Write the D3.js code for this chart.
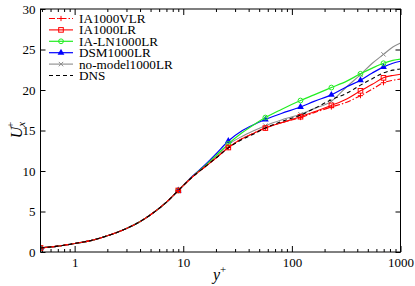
<!DOCTYPE html>
<html>
<head>
<meta charset="utf-8">
<script src="https://cdn.jsdelivr.net/npm/d3@7"></script>
<style>
  html, body { margin: 0; padding: 0; background: #fff; }
  svg { display: block; font-family: "Liberation Serif", "DejaVu Serif", serif; }
</style>
</head>
<body>
<svg id="chart" width="415" height="286"></svg>
<script>
// ---- data ----
const yPlus = [0.485, 0.7, 1, 1.5, 2, 3, 4, 5, 7, 9, 12, 16, 20, 26, 35, 45, 57, 80, 120, 160, 231, 320, 428, 550, 697, 850, 1000];
const wall  = [0.5, 0.72, 1.05, 1.5, 2.0, 2.9, 3.75, 4.6, 6.15, 7.6];
const ia1000vlr     = wall.concat([9.2, 10.55, 11.6, 12.9, 14.0, 14.7, 15.3, 15.95, 16.6, 17.2, 17.9, 18.5, 19.3, 20.1, 20.9, 21.2, 21.35]);
const ia1000lr      = wall.concat([9.2, 10.55, 11.6, 12.9, 14.0, 14.7, 15.3, 15.95, 16.7, 17.3, 18.1, 18.9, 19.9, 20.7, 21.5, 21.8, 21.95]);
const ialn1000lr    = wall.concat([9.25, 10.7, 11.9, 13.35, 14.75, 15.75, 16.6, 17.6, 18.7, 19.4, 20.3, 21.1, 22.0, 22.7, 23.3, 23.65, 23.8]);
const dsm1000lr     = wall.concat([9.3, 10.8, 12.1, 13.7, 15.0, 15.75, 16.35, 17.1, 17.9, 18.6, 19.4, 20.4, 21.2, 22.1, 22.85, 23.3, 23.55]);
const nomodel1000lr = wall.concat([9.25, 10.7, 11.8, 13.25, 14.3, 15.0, 15.6, 16.3, 17.0, 17.7, 18.6, 20.4, 21.9, 23.3, 24.4, 25.3, 25.8]);
const dns           = wall.concat([9.2, 10.55, 11.6, 12.85, 13.9, 14.6, 15.3, 16.1, 16.9, 17.7, 18.8, 19.6, 20.6, 21.4, 22.1, 22.45, 22.6]);
const markerIdx = [0, 9, 13, 16, 18, 20, 22, 24];

const seriesNames = ["IA1000VLR", "IA1000LR", "IA-LN1000LR", "DSM1000LR", "no-model1000LR", "DNS"];
const yTicks = [0, 5, 10, 15, 20, 25, 30];
const xMajor = [1, 10, 100, 1000];
const xTickLabels = ["1", "10", "100", "1000"];

// ---- styles ----
const styles = [
  { vals: ia1000vlr, color: "#ff0000", dash: "6,2,1.5,2", marker: "plus", width: 1.1 },
  { vals: ia1000lr, color: "#ff0000", dash: null, marker: "square", width: 1.1 },
  { vals: ialn1000lr, color: "#22ee22", dash: null, marker: "circle", width: 1.2 },
  { vals: dsm1000lr, color: "#0000ff", dash: null, marker: "triangle", width: 1.2 },
  { vals: nomodel1000lr, color: "#8c8c8c", dash: null, marker: "cross", width: 1.1 },
  { vals: dns, color: "#000000", dash: "4,3", marker: null, width: 1.1 }
];

const svg = d3.select("#chart");
const L = 40.5, R = 400.5, T = 9, B = 252;
const x = d3.scaleLog().domain([0.485, 1000]).range([L, R]);
const y = d3.scaleLinear().domain([0, 30]).range([B, T]);

// minor x ticks
const xMinor = [];
[0.1, 1, 10, 100].forEach(d => { for (let k = 2; k <= 9; k++) { const v = d * k; if (v >= 0.485 && v <= 1000) xMinor.push(v); } });

function styleAxis(g) {
  g.select(".domain").remove();
  g.selectAll(".tick line").attr("stroke", "#000").attr("stroke-width", 1);
  g.selectAll(".tick text").attr("font-size", 13).attr("fill", "#000")
    .attr("font-family", "Liberation Serif, serif");
}

// bottom axis
svg.append("g").attr("transform", `translate(0,${B})`)
  .call(d3.axisBottom(x).tickValues(xMajor).tickFormat((d, i) => xTickLabels[i]).tickSize(-6).tickPadding(6))
  .call(styleAxis);
svg.append("g").attr("transform", `translate(0,${B})`)
  .call(d3.axisBottom(x).tickValues(xMinor).tickFormat("").tickSize(-3))
  .call(styleAxis);
// top axis
svg.append("g").attr("transform", `translate(0,${T})`)
  .call(d3.axisTop(x).tickValues(xMajor).tickFormat("").tickSize(-6))
  .call(styleAxis);
svg.append("g").attr("transform", `translate(0,${T})`)
  .call(d3.axisTop(x).tickValues(xMinor).tickFormat("").tickSize(-3))
  .call(styleAxis);
// left axis
svg.append("g").attr("transform", `translate(${L},0)`)
  .call(d3.axisLeft(y).tickValues(yTicks).tickSize(-5).tickPadding(5))
  .call(styleAxis);
// right axis
svg.append("g").attr("transform", `translate(${R},0)`)
  .call(d3.axisRight(y).tickValues(yTicks).tickFormat("").tickSize(-5))
  .call(styleAxis);

// clip
svg.append("clipPath").attr("id", "clip").append("rect")
  .attr("x", L).attr("y", T).attr("width", R - L).attr("height", B - T);

const line = d3.line().x((d, i) => x(yPlus[i])).y(d => y(d)).curve(d3.curveMonotoneX);
const plot = svg.append("g").attr("clip-path", "url(#clip)");

function drawMarker(g, type, cx, cy, color) {
  const s = 2.6;
  if (type === "plus") {
    g.append("path").attr("d", `M${cx - s},${cy}H${cx + s}M${cx},${cy - s}V${cy + s}`)
      .attr("stroke", color).attr("stroke-width", 1).attr("fill", "none");
  } else if (type === "square") {
    g.append("rect").attr("x", cx - 2.3).attr("y", cy - 2.3).attr("width", 4.6).attr("height", 4.6)
      .attr("stroke", color).attr("stroke-width", 1).attr("fill", "none");
  } else if (type === "circle") {
    g.append("circle").attr("cx", cx).attr("cy", cy).attr("r", 2.4)
      .attr("stroke", color).attr("stroke-width", 1).attr("fill", "none");
  } else if (type === "triangle") {
    g.append("path").attr("d", d3.symbol(d3.symbolTriangle, 20)())
      .attr("transform", `translate(${cx},${cy})`).attr("fill", color);
  } else if (type === "cross") {
    const c = 2.2;
    g.append("path").attr("d", `M${cx - c},${cy - c}L${cx + c},${cy + c}M${cx - c},${cy + c}L${cx + c},${cy - c}`)
      .attr("stroke", color).attr("stroke-width", 1).attr("fill", "none");
  }
}

// draw series: DNS last on top
const order = [4, 3, 2, 1, 0, 5];
order.forEach(si => {
  const s = styles[si];
  plot.append("path").datum(s.vals).attr("d", line)
    .attr("fill", "none").attr("stroke", s.color).attr("stroke-width", s.width)
    .attr("stroke-dasharray", s.dash);
  if (s.marker) {
    markerIdx.forEach(i => drawMarker(plot, s.marker, x(yPlus[i]), y(s.vals[i]), s.color));
  }
});

// frame
svg.append("rect").attr("x", L).attr("y", T).attr("width", R - L).attr("height", B - T)
  .attr("fill", "none").attr("stroke", "#000").attr("stroke-width", 1);

// legend
const leg = svg.append("g");
seriesNames.forEach((name, i) => {
  const s = styles[i];
  const ly = 18.5 + i * 11.4;
  leg.append("line").attr("x1", 49).attr("x2", 73).attr("y1", ly).attr("y2", ly)
    .attr("stroke", s.color).attr("stroke-width", s.width).attr("stroke-dasharray", s.dash);
  if (s.marker) drawMarker(leg, s.marker, 61, ly, s.color);
  leg.append("text").attr("x", 79).attr("y", ly + 4.4).attr("font-size", 13.2).text(name);
});

// axis titles
const yl = svg.append("text").attr("transform", "translate(22,130) rotate(-90)")
  .attr("text-anchor", "middle").attr("font-size", 16);
yl.append("tspan").attr("font-style", "italic").text("U");
yl.append("tspan").attr("font-size", 11).attr("font-style", "italic").attr("dy", 3).text("x");
yl.append("tspan").attr("font-size", 11).attr("dx", -6).attr("dy", -11).text("+");

const xl = svg.append("text").attr("x", 213).attr("y", 280).attr("font-size", 16);
xl.append("tspan").attr("font-style", "italic").text("y");
xl.append("tspan").attr("font-size", 11).attr("dy", -7).text("+");
</script>
</body>
</html>
